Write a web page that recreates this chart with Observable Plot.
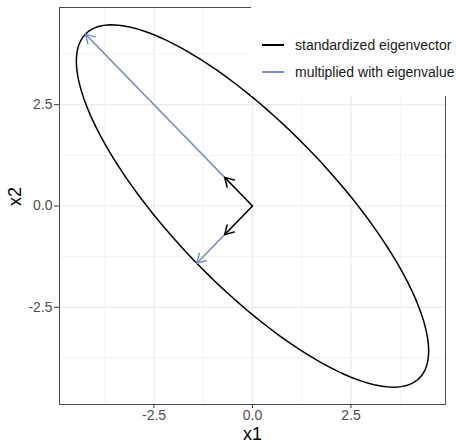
<!DOCTYPE html>
<html>
<head>
<meta charset="utf-8">
<script src="https://cdn.jsdelivr.net/npm/d3@7"></script>
<script src="https://cdn.jsdelivr.net/npm/@observablehq/plot@0.6"></script>
<style>
  html, body { margin: 0; padding: 0; background: #fff; }
  #wrap { position: relative; width: 456px; height: 444px; font-family: "Liberation Sans", Arial, sans-serif; overflow: hidden; }
  #legend { position: absolute; left: 251px; top: 0; width: 205px; height: 96px; background: #fff; }
  .item { position: absolute; left: 11px; display: flex; align-items: center; font-size: 14px; color: #1a1a1a; white-space: nowrap; }
  .key { width: 22px; height: 0; border-top: 2px solid; margin-right: 11px; }
</style>
</head>
<body>
<div id="wrap"></div>
<script>
// Eigen decomposition
const eigenvalues = [6, 2];
const vecX = [-0.7071, -0.7071];
const vecY = [0.7071, -0.7071];
const seriesNames = ["standardized eigenvector", "multiplied with eigenvalue"];
const seriesColors = ["#000000", "#7B8EC8"];
const majorTicks = [-2.5, 0, 2.5];
const minorTicks = [-3.75, -1.25, 1.25, 3.75];
const domain = [-4.9, 4.9];

// Ellipse traced from the eigenvectors scaled by eigenvalues
const ellipse = d3.range(0, 361, 2).map(deg => {
  const t = deg * Math.PI / 180;
  return {
    x: eigenvalues[0] * Math.cos(t) * vecX[0] + eigenvalues[1] * Math.sin(t) * vecX[1],
    y: eigenvalues[0] * Math.cos(t) * vecY[0] + eigenvalues[1] * Math.sin(t) * vecY[1]
  };
});

const standardized = vecX.map((vx, i) => ({x1: 0, y1: 0, x2: vx, y2: vecY[i]}));
const multiplied = vecX.map((vx, i) => ({x1: vx, y1: vecY[i], x2: vx * eigenvalues[i], y2: vecY[i] * eigenvalues[i]}));
const fmt = d => d.toFixed(1);

const chart = Plot.plot({
  width: 456,
  height: 444,
  marginLeft: 59,
  marginRight: 11,
  marginTop: 7,
  marginBottom: 40,
  style: {fontFamily: "Liberation Sans, Arial, sans-serif", background: "#fff"},
  x: {domain, label: null},
  y: {domain, label: null},
  marks: [
    Plot.gridX(minorTicks, {stroke: "#EBEBEB", strokeOpacity: 1, strokeWidth: 0.6}),
    Plot.gridY(minorTicks, {stroke: "#EBEBEB", strokeOpacity: 1, strokeWidth: 0.6}),
    Plot.gridX(majorTicks, {stroke: "#EBEBEB", strokeOpacity: 1, strokeWidth: 1.2}),
    Plot.gridY(majorTicks, {stroke: "#EBEBEB", strokeOpacity: 1, strokeWidth: 1.2}),
    Plot.line(ellipse, {x: "x", y: "y", stroke: "#000", strokeWidth: 1.5, curve: "linear"}),
    Plot.arrow(multiplied, {x1: "x1", y1: "y1", x2: "x2", y2: "y2", stroke: seriesColors[1], strokeWidth: 1.5, headLength: 10, headAngle: 60}),
    Plot.arrow(standardized, {x1: "x1", y1: "y1", x2: "x2", y2: "y2", stroke: seriesColors[0], strokeWidth: 1.5, headLength: 10, headAngle: 60}),
    Plot.frame({stroke: "#4d4d4d", strokeWidth: 1}),
    Plot.axisX(majorTicks, {tickSize: 4, tickPadding: 2, fontSize: 14, fill: "#4D4D4D", stroke: "#333", tickFormat: fmt}),
    Plot.axisY(majorTicks, {tickSize: 5, tickPadding: 2, fontSize: 14, fill: "#4D4D4D", stroke: "#333", tickFormat: fmt}),
    Plot.text(["x1"], {frameAnchor: "bottom", dy: 35, fontSize: 18, fill: "#000"}),
    Plot.text(["x2"], {frameAnchor: "left", dx: -44, rotate: -90, fontSize: 18, fill: "#000"})
  ]
});

const wrap = document.getElementById("wrap");
wrap.appendChild(chart);

const legend = document.createElement("div");
legend.id = "legend";
seriesNames.forEach((name, i) => {
  const item = document.createElement("div");
  item.className = "item";
  item.style.top = (37 + i * 26.7) + "px";
  const key = document.createElement("span");
  key.className = "key";
  key.style.borderTopColor = seriesColors[i];
  const label = document.createElement("span");
  label.textContent = name;
  item.appendChild(key);
  item.appendChild(label);
  legend.appendChild(item);
});
wrap.appendChild(legend);
</script>
</body>
</html>
